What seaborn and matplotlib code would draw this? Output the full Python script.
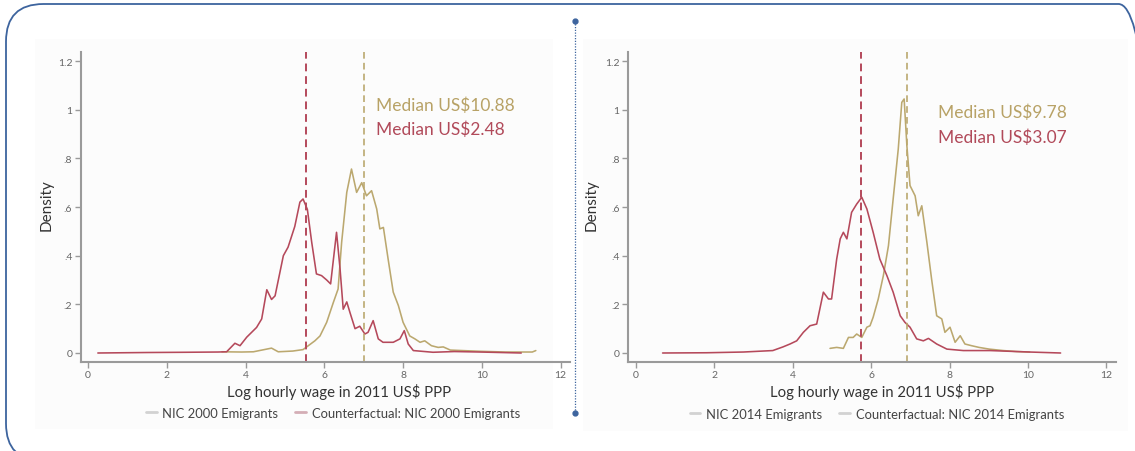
import matplotlib
matplotlib.use("Agg")
import matplotlib.pyplot as plt
import seaborn as sns
import pandas as pd
from matplotlib.patches import FancyBboxPatch, Rectangle
from matplotlib.lines import Line2D

# ---------------- data ----------------
left_nic_x = [3.4, 3.9, 4.2, 4.66, 4.83, 5.2, 5.46, 5.76, 5.89, 6.06, 6.23, 6.35, 6.44, 6.57, 6.69, 6.82,
              6.95, 7.07, 7.2, 7.33, 7.41, 7.5, 7.62, 7.75, 7.88, 8.0, 8.17, 8.3, 8.43, 8.55, 8.72, 8.89,
              9.02, 9.2, 9.5, 9.96, 10.6, 11.28, 11.37]
left_nic_y = [0.005, 0.004, 0.005, 0.02, 0.005, 0.008, 0.014, 0.05, 0.07, 0.126, 0.208, 0.263, 0.455, 0.66, 0.756, 0.66,
              0.70, 0.646, 0.667, 0.592, 0.51, 0.516, 0.386, 0.25, 0.195, 0.126, 0.07, 0.058, 0.044, 0.05, 0.03, 0.023,
              0.025, 0.012, 0.01, 0.007, 0.004, 0.004, 0.01]

left_cf_x = [0.25, 1.5, 2.5, 3.3, 3.52, 3.73, 3.86, 4.03, 4.28, 4.41, 4.54, 4.66, 4.75, 4.96, 5.08, 5.25,
             5.38, 5.46, 5.57, 5.68, 5.8, 5.93, 6.06, 6.16, 6.31, 6.4, 6.48, 6.57, 6.65, 6.78, 6.9, 7.03,
             7.11, 7.24, 7.37, 7.49, 7.75, 7.92, 8.03, 8.13, 8.26, 8.76, 9.3, 9.96, 11.0]
left_cf_y = [0.0, 0.002, 0.003, 0.004, 0.005, 0.04, 0.03, 0.065, 0.105, 0.14, 0.26, 0.22, 0.235, 0.40, 0.435, 0.52,
             0.62, 0.633, 0.59, 0.455, 0.325, 0.318, 0.30, 0.284, 0.496, 0.345, 0.18, 0.21, 0.167, 0.10, 0.11, 0.078,
             0.085, 0.133, 0.058, 0.044, 0.044, 0.058, 0.092, 0.037, 0.01, 0.003, 0.006, 0.004, 0.0]

right_nic_x = [4.95, 5.12, 5.29, 5.42, 5.54, 5.63, 5.76, 5.89, 5.97, 6.05, 6.18, 6.31, 6.44, 6.56, 6.69, 6.78,
               6.84, 6.91, 6.99, 7.12, 7.2, 7.29, 7.42, 7.54, 7.67, 7.8, 7.88, 8.01, 8.14, 8.27, 8.39, 8.56,
               8.75, 9.01, 9.37, 9.7, 10.04]
right_nic_y = [0.019, 0.023, 0.019, 0.064, 0.064, 0.078, 0.064, 0.106, 0.112, 0.147, 0.222, 0.318, 0.441, 0.633, 0.838, 1.03,
               1.044, 0.852, 0.688, 0.646, 0.564, 0.605, 0.455, 0.304, 0.153, 0.14, 0.085, 0.106, 0.044, 0.071, 0.037, 0.03,
               0.023, 0.016, 0.01, 0.006, 0.004]

right_cf_x = [0.68, 1.8, 2.74, 3.49, 3.75, 3.93, 4.1, 4.27, 4.44, 4.61, 4.78, 4.91, 4.99, 5.12, 5.21, 5.29,
              5.38, 5.5, 5.63, 5.76, 5.89, 6.05, 6.22, 6.4, 6.56, 6.74, 6.86, 6.99, 7.16, 7.33, 7.46, 7.67,
              7.93, 8.35, 9.03, 10.04, 10.83]
right_cf_y = [0.0, 0.001, 0.004, 0.01, 0.025, 0.037, 0.05, 0.085, 0.112, 0.119, 0.25, 0.222, 0.222, 0.386, 0.469, 0.496,
              0.469, 0.578, 0.612, 0.64, 0.592, 0.496, 0.386, 0.318, 0.25, 0.153, 0.126, 0.106, 0.058, 0.05, 0.06, 0.037,
              0.016, 0.01, 0.01, 0.004, 0.0]

left_medians = [7.0, 5.53]     # NIC, counterfactual (log scale)
right_medians = [6.91, 5.73]
left_median_labels = ["Median US$10.88", "Median US$2.48"]
right_median_labels = ["Median US$9.78", "Median US$3.07"]
left_legend = ["NIC 2000 Emigrants", "Counterfactual: NIC 2000 Emigrants"]
right_legend = ["NIC 2014 Emigrants", "Counterfactual: NIC 2014 Emigrants"]
x_ticks = [0, 2, 4, 6, 8, 10, 12]
y_ticks = [0, 0.2, 0.4, 0.6, 0.8, 1.0, 1.2]
y_ticklabels = ["0", ".2", ".4", ".6", ".8", "1", "1.2"]
x_label = "Log hourly wage in 2011 US$ PPP"
y_label = "Density"

# ---------------- style ----------------
sns.set_theme(style="white")
plt.rcParams['font.family'] = ['Lato', 'DejaVu Sans']

GOLD = "#bba86f"
RED = "#b5495b"
GOLD_TXT = "#b8a266"
RED_TXT = "#b14a5a"
AXIS = "#9a9a9a"
BLUE = "#3d649e"

W, H = 1135, 452
fig = plt.figure(figsize=(W / 100, H / 100), dpi=100)

# very faint panel backgrounds (drawn below everything)
for (x0, y0, x1, y1) in [(35, 40, 553, 430), (583, 40, 1128, 432)]:
    fig.patches.append(Rectangle((x0 / W, 1 - y1 / H), (x1 - x0) / W, (y1 - y0) / H,
                                 transform=fig.transFigure, facecolor="#fcfcfc",
                                 edgecolor="none", zorder=-10))

# outer rounded frame
frame = FancyBboxPatch((6 / W, -10 / H), 1150 / W, 457 / H,
                       boxstyle="round,pad=0,rounding_size=0.033",
                       transform=fig.transFigure, fill=False, edgecolor=BLUE, linewidth=1.3,
                       mutation_aspect=W / H, clip_on=False, zorder=-5)
fig.patches.append(frame)

# dotted divider
fig.add_artist(Line2D([575 / W, 575 / W], [1 - 22 / H, 1 - 414 / H],
                      transform=fig.transFigure, color=BLUE, linestyle=(0, (1, 1.2)), linewidth=0.9))
for yy in [22, 414]:
    fig.add_artist(Line2D([575 / W], [1 - yy / H], transform=fig.transFigure,
                          marker="o", markersize=3.5, color=BLUE, linestyle="none"))


def panel(rect, xlim, nic_x, nic_y, cf_x, cf_y, medians, mlabels, legend_labels, text_pos,
          leg_center, xlab_x, ylab_x, second_handle):
    ax = fig.add_axes(rect)
    ax.set_zorder(5)
    ax.patch.set_visible(False)
    df_n = pd.DataFrame({"x": nic_x, "y": nic_y})
    df_c = pd.DataFrame({"x": cf_x, "y": cf_y})
    sns.lineplot(data=df_n, x="x", y="y", ax=ax, color=GOLD, linewidth=1.15, sort=False)
    sns.lineplot(data=df_c, x="x", y="y", ax=ax, color=RED, linewidth=1.15, sort=False)
    ax.axvline(medians[0], color=GOLD, linestyle=(0, (4, 2.5)), linewidth=1.2)
    ax.axvline(medians[1], color=RED, linestyle=(0, (4, 2.5)), linewidth=1.4)
    ax.set_xlim(*xlim)
    ax.set_ylim(-0.037, 1.237)
    ax.set_xticks(x_ticks)
    ax.set_xticklabels([str(t) for t in x_ticks])
    ax.set_yticks(y_ticks)
    ax.set_yticklabels(y_ticklabels)
    ax.tick_params(axis="both", which="both", direction="out", length=4, width=1.0,
                   colors=AXIS, labelsize=7.5, labelcolor="#666666", pad=2,
                   bottom=True, left=True)
    for s in ["top", "right"]:
        ax.spines[s].set_visible(False)
    for s in ["left", "bottom"]:
        ax.spines[s].set_color(AXIS)
        ax.spines[s].set_linewidth(1.5)
    ax.set_xlabel(x_label, fontsize=10.7, color="#333333")
    ax.xaxis.set_label_coords(xlab_x, -0.094)
    ax.xaxis.label.set_va("center")
    ax.set_ylabel(y_label, fontsize=11, color="#333333")
    ax.yaxis.set_label_coords(ylab_x, 0.51)
    ax.yaxis.label.set_va("center")
    ax.text(text_pos[0], text_pos[1], mlabels[0], color=GOLD_TXT, fontsize=12.5,
            transform=ax.transData, va="center", ha="left")
    ax.text(text_pos[0], text_pos[1] - 0.1, mlabels[1], color=RED_TXT, fontsize=12.5,
            transform=ax.transData, va="center", ha="left")
    handles = [Line2D([], [], color="#d2d2d2", linewidth=2),
               Line2D([], [], color=second_handle, linewidth=2)]
    ax.legend(handles, legend_labels, loc="center", bbox_to_anchor=leg_center,
              bbox_transform=fig.transFigure, ncol=2, frameon=False, fontsize=9.4,
              handlelength=0.8, handletextpad=0.45, columnspacing=1.3, labelcolor="#444444")
    return ax


ax1 = panel([80.7 / W, 89 / H, 489 / W, 310 / H], (-0.185, 12.23),
            left_nic_x, left_nic_y, left_cf_x, left_cf_y, left_medians, left_median_labels,
            left_legend, (7.3, 1.02), (333 / W, 1 - 414 / H), 0.528, -0.069, "#d4aeb6")
ax2 = panel([627.8 / W, 89 / H, 487.7 / W, 310 / H], (-0.207, 12.23),
            right_nic_x, right_nic_y, right_cf_x, right_cf_y, right_medians, right_median_labels,
            right_legend, (7.7, 0.99), (877 / W, 1 - 415 / H), 0.521, -0.075, "#d2d2d2")

fig.savefig("out.png", dpi=100)
